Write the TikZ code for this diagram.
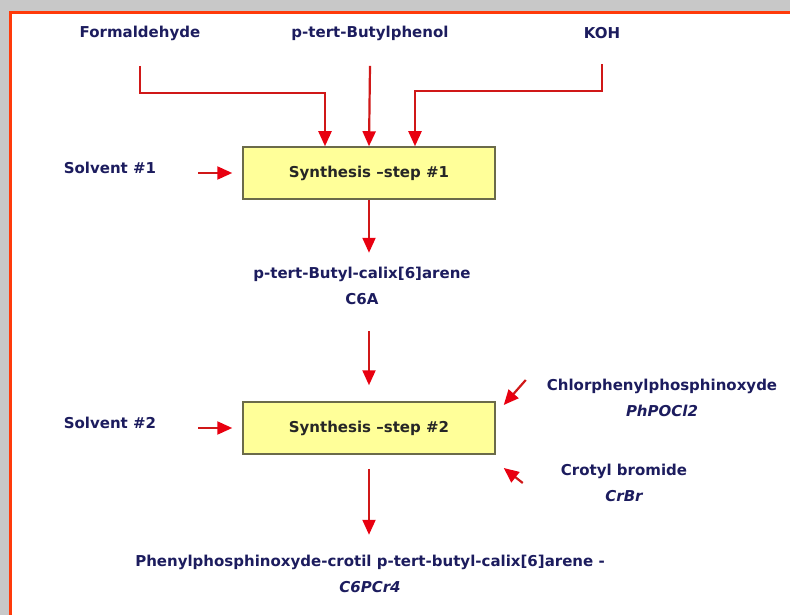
\documentclass[tikz,border=0pt]{standalone}
\usepackage{fontspec}
\setmainfont{DejaVu Sans}
\usetikzlibrary{arrows.meta}
\definecolor{inkblue}{HTML}{1C1C5E}
\definecolor{boxfill}{HTML}{FFFF99}
\definecolor{boxline}{HTML}{6B6B4A}
\definecolor{flowred}{HTML}{D01818}
\definecolor{tipred}{HTML}{E80010}
\definecolor{framered}{HTML}{FF3A0A}
\definecolor{bggray}{HTML}{C8C8C8}

\begin{document}
\begin{tikzpicture}[x=1pt, y=-1pt,
    every node/.style={font=\fontsize{15}{26}\selectfont\bfseries, text=inkblue, align=center},
    stepbox/.style={draw=boxline, line width=1.5pt, fill=boxfill, text=black!85,
        minimum width=252pt, minimum height=52pt, inner sep=0pt},
    flow/.style={draw=flowred, line width=2.2pt,
        -{Triangle[length=15pt, width=13pt, fill=tipred, color=tipred]}}]
    \useasboundingbox (0,0) rectangle (790,615);

    % Frame
    \fill[bggray] (0,0) rectangle (790,615);
    \filldraw[fill=white, draw=framered, line width=3.5pt] (10.5,12.5) rectangle (800,625);

    % Inputs of step 1
    \node (form) at (140,33) {Formaldehyde};
    \node (butyl) at (370,33) {p-tert-Butylphenol};
    \node (koh) at (602,33) {KOH};
    \node (solv1) at (110,168) {Solvent \#1};

    % Steps
    \node[stepbox] (step1) at (369,173) {Synthesis --step \#1};
    \node (c6a) at (362,286) {p-tert-Butyl-calix[6]arene\\C6A};
    \node[stepbox] (step2) at (369,428) {Synthesis --step \#2};

    % Inputs of step 2
    \node (solv2) at (110,423) {Solvent \#2};
    \node (chlor) at (662,398) {Chlorphenylphosphinoxyde\\\itshape PhPOCl2};
    \node (crbr) at (624,483) {Crotyl bromide\\\itshape CrBr};

    % Product
    \node (prod) at (370,574) {Phenylphosphinoxyde-crotil p-tert-butyl-calix[6]arene -\\\itshape C6PCr4};

    % Arrows
    \draw[flow] ([yshift=-22pt]form.south) -- ++(0,27) -| ([xshift=-44pt]step1.north);
    \draw[flow] ([yshift=-22pt]butyl.south) -- (step1.north);
    \draw[flow] ([yshift=-22pt]koh.south) -- ++(0,27) -| ([xshift=46pt]step1.north);
    \draw[flow] ([xshift=-44pt]step1.west) -- ([xshift=-10pt]step1.west);
    \draw[flow] (step1.south) -- ++(0,53);
    \draw[flow] ([yshift=-23pt]c6a.south -| step2.north) -- ([yshift=16pt]step2.north);
    \draw[flow] ([xshift=-44pt]step2.west) -- ([xshift=-10pt]step2.west);
    \draw[flow] ([shift={(30,-48)}]step2.east) -- ([shift={(8,-23)}]step2.east);
    \draw[flow] ([shift={(27,55)}]step2.east) -- ([shift={(8,40)}]step2.east);
    \draw[flow] ([yshift=-14pt]step2.south) -- ++(0,66);
\end{tikzpicture}
\end{document}
